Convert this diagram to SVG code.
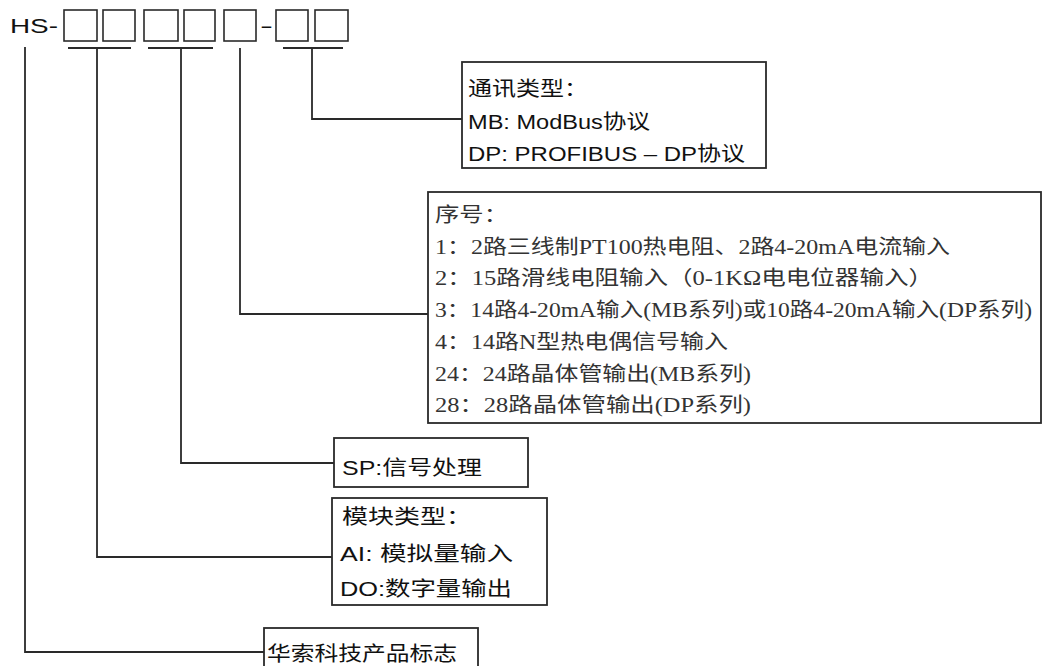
<svg xmlns="http://www.w3.org/2000/svg" width="1043" height="666" viewBox="0 0 1043 666">
<style>
.bg{fill:#ffffff}
.box{fill:#ffffff;stroke:#2a2a2a;stroke-width:1.8}
.cell{fill:#ffffff;stroke:#2a2a2a;stroke-width:1.6}
.ln{fill:none;stroke:#2a2a2a;stroke-width:1.8}
.sans{font-family:"Liberation Sans","Noto Sans CJK SC",sans-serif;font-size:20px;fill:#111}
.serif{font-family:"Liberation Serif","Noto Sans CJK SC",serif;font-size:20px;fill:#333}
</style>
<rect class="bg" x="0" y="0" width="1043" height="666"/>
<g id="code">
  <text class="sans" x="10" y="33" font-size="25" textLength="48" lengthAdjust="spacingAndGlyphs">HS-</text>
  <rect class="cell" x="64" y="10" width="33" height="31"/>
  <rect class="cell" x="103" y="10" width="32" height="31"/>
  <rect class="cell" x="144" y="10" width="34" height="31"/>
  <rect class="cell" x="184" y="10" width="31" height="31"/>
  <rect class="cell" x="224" y="10" width="32" height="31"/>
  <text class="sans" x="260" y="33" font-size="25" textLength="13" lengthAdjust="spacingAndGlyphs">-</text>
  <rect class="cell" x="276" y="10" width="32" height="31"/>
  <rect class="cell" x="315" y="10" width="33" height="31"/>
</g>
<g id="connectors">
  <path class="ln" d="M68,48 H131 M148,48 H213 M283,48 H343"/>
  <path class="ln" d="M25,47 V652 H264"/>
  <path class="ln" d="M97,48 V557 H332"/>
  <path class="ln" d="M181,48 V463 H334"/>
  <path class="ln" d="M240,48 V314 H428"/>
  <path class="ln" d="M312,48 V119 H462"/>
</g>
<g id="comm">
  <rect class="box" x="462" y="62" width="304" height="106"/>
  <text class="sans" x="468" y="96" textLength="120" lengthAdjust="spacingAndGlyphs">通讯类型：</text>
  <text class="sans" x="468" y="129" textLength="182" lengthAdjust="spacingAndGlyphs">MB: ModBus协议</text>
  <text class="sans" x="468" y="161" textLength="277" lengthAdjust="spacingAndGlyphs">DP: PROFIBUS – DP协议</text>
</g>
<g id="serial">
  <rect class="box" x="428" y="192" width="613" height="231"/>
  <text class="serif" x="435" y="222" textLength="73" lengthAdjust="spacingAndGlyphs">序号：</text>
  <text class="serif" x="435" y="254" textLength="515" lengthAdjust="spacingAndGlyphs">1：2路三线制PT100热电阻、2路4-20mA电流输入</text>
  <text class="serif" x="435" y="285" textLength="498" lengthAdjust="spacingAndGlyphs">2：15路滑线电阻输入（0-1KΩ电电位器输入）</text>
  <text class="serif" x="435" y="317" textLength="597" lengthAdjust="spacingAndGlyphs">3：14路4-20mA输入(MB系列)或10路4-20mA输入(DP系列)</text>
  <text class="serif" x="435" y="349" textLength="293" lengthAdjust="spacingAndGlyphs">4：14路N型热电偶信号输入</text>
  <text class="serif" x="435" y="381" textLength="316" lengthAdjust="spacingAndGlyphs">24：24路晶体管输出(MB系列)</text>
  <text class="serif" x="435" y="412" textLength="316" lengthAdjust="spacingAndGlyphs">28：28路晶体管输出(DP系列)</text>
</g>
<g id="sp">
  <rect class="box" x="334" y="438" width="194" height="49"/>
  <text class="sans" x="342" y="475" font-size="21" textLength="140" lengthAdjust="spacingAndGlyphs">SP:信号处理</text>
</g>
<g id="module">
  <rect class="box" x="332" y="498" width="215" height="107"/>
  <text class="sans" x="342" y="524" font-size="21" fill="#333" textLength="130" lengthAdjust="spacingAndGlyphs">模块类型：</text>
  <text class="sans" x="340" y="561" font-size="21" textLength="173" lengthAdjust="spacingAndGlyphs">AI: 模拟量输入</text>
  <text class="sans" x="340" y="596" font-size="21" textLength="172" lengthAdjust="spacingAndGlyphs">DO:数字量输出</text>
</g>
<g id="brand">
  <rect class="box" x="264" y="628" width="214" height="42"/>
  <text class="sans" x="267" y="661" font-size="24" fill="#333" textLength="190" lengthAdjust="spacingAndGlyphs">华索科技产品标志</text>
</g>
</svg>
